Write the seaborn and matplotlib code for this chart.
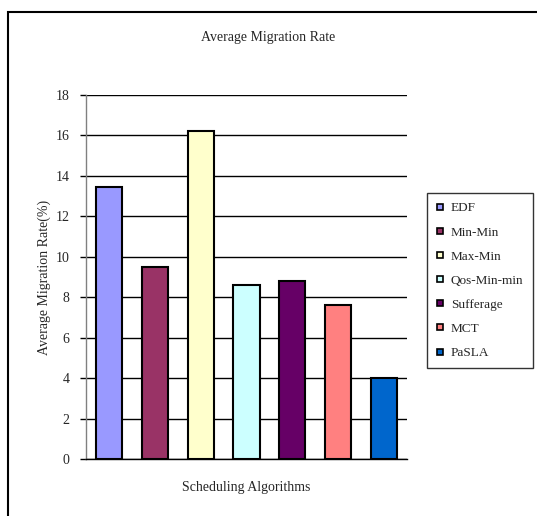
import matplotlib
matplotlib.use("Agg")
import matplotlib.pyplot as plt
import seaborn as sns
import pandas as pd
from matplotlib.lines import Line2D
from matplotlib.patches import Rectangle

algorithms = ["EDF", "Min-Min", "Max-Min", "Qos-Min-min", "Sufferage", "MCT", "PaSLA"]
migration_rate = [13.45, 9.5, 16.2, 8.6, 8.8, 7.6, 4.0]
colors = ["#9999FF", "#993366", "#FFFFCC", "#CCFFFF", "#660066", "#FF8080", "#0066CC"]
y_ticks = [0, 2, 4, 6, 8, 10, 12, 14, 16, 18]

sns.set_theme(style="white")
plt.rcParams["font.family"] = ["Liberation Serif", "DejaVu Serif"]

df = pd.DataFrame({"alg": algorithms, "rate": migration_rate})

fig = plt.figure(figsize=(5.37, 5.16), dpi=100)
ax = fig.add_axes([86/537, 1-459/516, (407-86)/537, (459-95)/516])

sns.barplot(data=df, x="alg", y="rate", hue="alg", palette=colors, dodge=False,
            saturation=1, width=0.57, edgecolor="black", linewidth=1.5,
            legend=False, ax=ax, zorder=3)

ax.set_ylim(0, 18)
ax.set_xlim(-0.5, len(algorithms) - 0.5)
ax.set_yticks(y_ticks)
ax.set_yticklabels([str(t) for t in y_ticks], fontsize=10)
ax.yaxis.grid(True, color="black", linewidth=1.0, zorder=0)
ax.set_axisbelow(True)
ax.set_xticks([])
ax.tick_params(axis="y", which="both", left=True, length=4, width=1, color="black", pad=8)
for s in ["top", "right"]:
    ax.spines[s].set_visible(False)
ax.spines["left"].set_color("#808080")
ax.spines["left"].set_linewidth(1.0)
ax.spines["bottom"].set_color("black")
ax.spines["bottom"].set_linewidth(1.0)

ax.set_xlabel("Scheduling Algorithms", fontsize=10, labelpad=16)
ax.set_ylabel("Average Migration Rate(%)", fontsize=10, labelpad=3)

fig.text(268/537, 1-37/516, "Average Migration Rate", ha="center", va="center", fontsize=10)

handles = [Line2D([0], [0], marker="s", linestyle="none", markersize=5,
                  markerfacecolor=c, markeredgecolor="black", markeredgewidth=1.2)
           for c in colors]
leg = fig.legend(handles, algorithms, loc="upper left",
                 bbox_to_anchor=(427/537, 1-193/516), frameon=True, fontsize=9.5,
                 handlelength=0.6, handletextpad=0.5, labelspacing=0.9,
                 borderpad=0.7, borderaxespad=0, fancybox=False)
leg.get_frame().set_edgecolor("black")
leg.get_frame().set_linewidth(1.0)

fig.patches.append(Rectangle((8/537, -0.1), 1.2, (1-12/516) + 0.1, transform=fig.transFigure,
                             fill=False, edgecolor="black", linewidth=1.5))

fig.savefig("out.png", dpi=100)
